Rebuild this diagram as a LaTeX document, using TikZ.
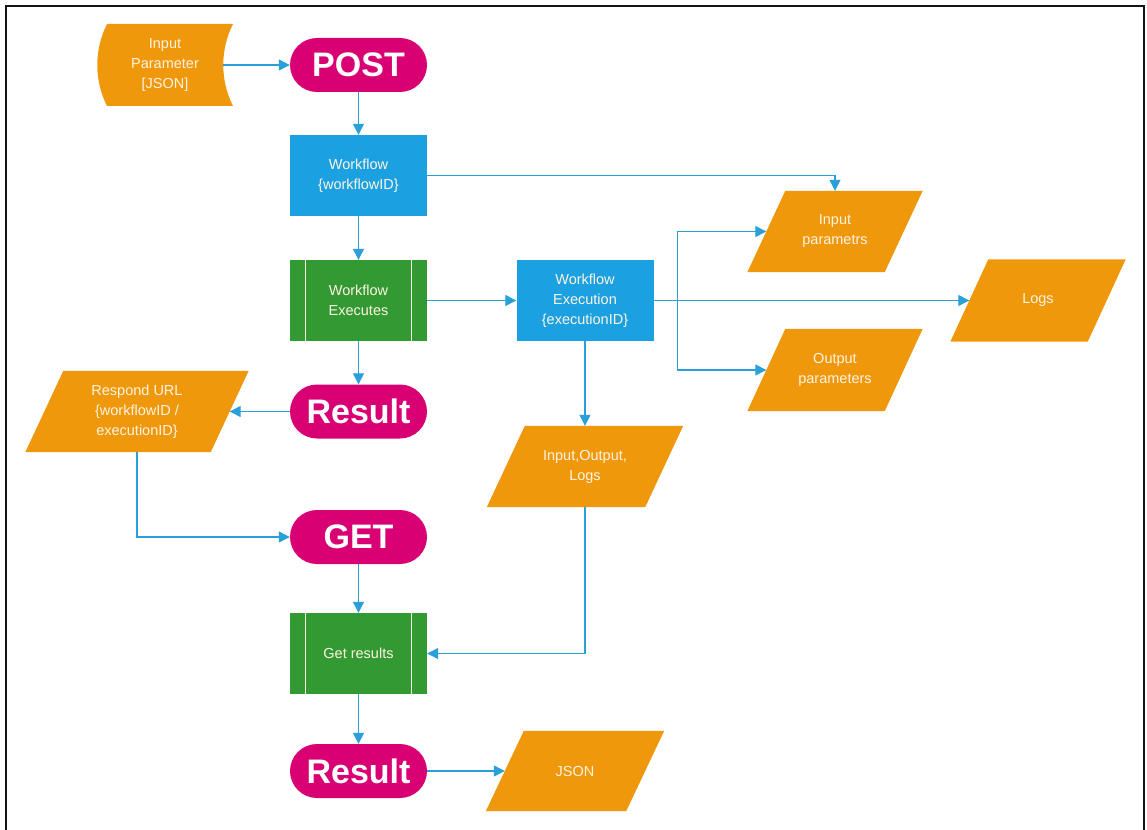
\documentclass[tikz,border=0pt]{standalone}
\usepackage{fontspec}
\setmainfont{Liberation Sans}
\usetikzlibrary{arrows.meta,calc}
\pgfdeclarelayer{background}
\pgfsetlayers{background,main}
\definecolor{cOrange}{HTML}{F0980C}
\definecolor{cBlue}{HTML}{1BA1E2}
\definecolor{cGreen}{HTML}{339933}
\definecolor{cMag}{HTML}{D80073}
\definecolor{cLink}{HTML}{2A9FDA}
\definecolor{cText}{HTML}{FFF4E2}
\tikzset{
  txt/.style={align=center, text=cText, inner sep=0pt, font=\fontsize{14.5}{20}\selectfont},
  paratext/.style={txt, shape=rectangle},
  rectbox/.style={txt, fill=cBlue, minimum width=137pt, minimum height=81pt},
  procbox/.style={txt, fill=cGreen, minimum width=137pt, minimum height=81pt},
  termbox/.style={fill=cMag, text=white, rounded corners=27pt, minimum width=137pt, minimum height=54pt, inner sep=0pt, font=\fontsize{34}{34}\selectfont\bfseries},
  conn/.style={draw=cLink, line width=1.3pt, -{Triangle[length=11pt,width=11pt]}},
  innerline/.style={draw=cText, line width=1pt}
}
\newcommand{\paranode}[6]{%
  \node[paratext, minimum width=#4pt, minimum height=#5pt] (#1) at (#2,#3) {#6};
  \begin{pgfonlayer}{background}
    \fill[cOrange] ([xshift=19pt]#1.north west) -- ([xshift=19pt]#1.north east)
      -- ([xshift=-19pt]#1.south east) -- ([xshift=-19pt]#1.south west) -- cycle;
  \end{pgfonlayer}}
\begin{document}
\begin{tikzpicture}[x=1pt, y=-1pt]
\useasboundingbox (0,0) rectangle (1147,829);
% frame
\draw[line width=2.2pt, black!92] (6,840) -- (6,6) -- (1144,6) -- (1144,840);

% stored data input
\fill[cOrange] (107,24) -- (233,24) .. controls (220,50) and (220,80) .. (233,106)
  -- (107,106) .. controls (94,80) and (94,50) .. (107,24);
\node[txt, minimum width=116pt, minimum height=82pt] (inparam) at (165,65) {Input\\Parameter\\{}[JSON]};

% main column
\node[termbox] (post) at (358.5,65) {POST};
\node[rectbox] (wf) at (358.5,175.5) {Workflow\\\{workflowID\}};
\node[procbox] (wfx) at (358.5,300.5) {Workflow\\Executes};
\draw[innerline] ([xshift=16pt]wfx.north west) -- ([xshift=16pt]wfx.south west);
\draw[innerline] ([xshift=-16pt]wfx.north east) -- ([xshift=-16pt]wfx.south east);
\node[termbox] (res1) at (358.5,411.5) {Result};
\node[termbox] (get) at (358.5,537) {GET};
\node[procbox] (getres) at (358.5,653.5) {Get results};
\draw[innerline] ([xshift=16pt]getres.north west) -- ([xshift=16pt]getres.south west);
\draw[innerline] ([xshift=-16pt]getres.north east) -- ([xshift=-16pt]getres.south east);
\node[termbox] (res2) at (358.5,771) {Result};

% execution
\node[rectbox] (wfe) at (585,300.5) {Workflow\\Execution\\\{executionID\}};

% parallelograms
\paranode{respond}{137}{411.5}{185}{81}{Respond URL\\\{workflowID /\\executionID\}}
\paranode{iol}{585}{466.5}{158}{81}{Input,Output,\\Logs}
\paranode{json}{575}{771}{140}{80}{JSON}
\paranode{inp}{835}{231.5}{137}{81}{Input\\parametrs}
\paranode{outp}{835}{370}{137}{82}{Output\\parameters}
\paranode{logs}{1038}{300.5}{137}{82}{Logs}

% connectors
\draw[conn] (inparam.east) -- (post.west);
\draw[conn] (post.south) -- (wf.north);
\draw[conn] (wf.east) -| (inp.north);
\draw[conn] (wf.south) -- (wfx.north);
\draw[conn] (wfx.east) -- (wfe.west);
\draw[conn] (wfx.south) -- (res1.north);
\draw[conn] (wfe.east) -- (logs.west);
\draw[conn] ([xshift=24pt]wfe.east) |- (inp.west);
\draw[conn] ([xshift=24pt]wfe.east) |- (outp.west);
\draw[conn] (wfe.south) -- (iol.north);
\draw[conn] (res1.west) -- (respond.east);
\draw[conn] (respond.south) |- (get.west);
\draw[conn] (get.south) -- (getres.north);
\draw[conn] (iol.south) |- (getres.east);
\draw[conn] (getres.south) -- (res2.north);
\draw[conn] (res2.east) -- (json.west);
\end{tikzpicture}
\end{document}
